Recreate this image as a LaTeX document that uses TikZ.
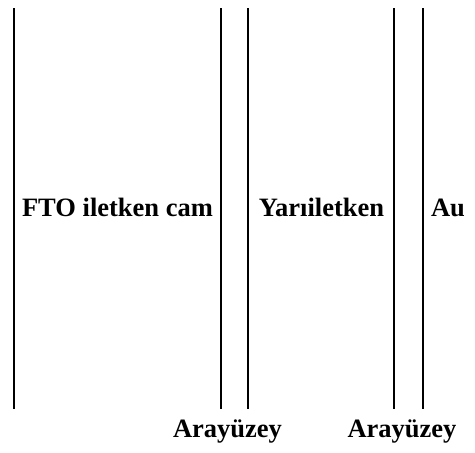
\documentclass[tikz,border=0pt]{standalone}
\usepackage{fontspec}
\setmainfont{Liberation Serif}
\usetikzlibrary{positioning}
\tikzset{lbl/.style={font=\fontsize{26.5}{30}\selectfont\bfseries, inner sep=0pt, anchor=base}}

\begin{document}
\begin{tikzpicture}[x=1pt, y=-1pt, line width=2pt]
\useasboundingbox (0,0) rectangle (475,453);
% layer boundaries
\foreach \xx in {13.5,220.5,248,394,423}
  \draw (\xx,8) -- (\xx,409);
% layer names
\node[lbl] (fto) at (117.5,216) {FTO iletken cam};
\node[lbl] (semi) at (321.5,216) {Yarıiletken};
\node[lbl] (au) at (448,216) {Au};
% interfaces
\node[lbl] (ara1) at (227.5,437) {Arayüzey};
\node[lbl] (ara2) at (402,437) {Arayüzey};
\end{tikzpicture}
\end{document}
